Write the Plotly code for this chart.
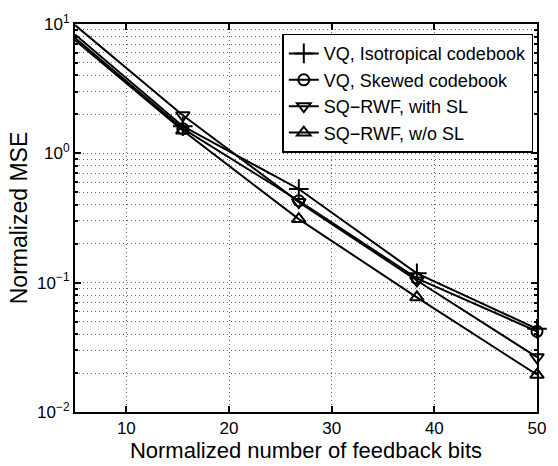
import plotly.graph_objects as go

bits = [5, 15.5, 26.8, 38.3, 50]
vq_iso = [8.3, 1.62, 0.53, 0.118, 0.044]
vq_skew = [7.8, 1.55, 0.43, 0.108, 0.042]
sq_sl = [9.8, 1.97, 0.42, 0.104, 0.0265]
sq_nosl = [7.5, 1.5, 0.31, 0.077, 0.0194]

names = ["VQ, Isotropical codebook", "VQ, Skewed codebook",
         "SQ\u2212RWF, with SL", "SQ\u2212RWF, w/o SL"]
series = [vq_iso, vq_skew, sq_sl, sq_nosl]
symbols = ["cross-thin-open", "circle-open", "triangle-down-open", "triangle-up-open"]
sizes = [14, 11, 12, 12]

FONT = "Liberation Sans, Arial, Helvetica, sans-serif"
GRID = "#666"
DOTS = "1px,3px"

fig = go.Figure()
for name, vals, sym, sz in zip(names, series, symbols, sizes):
    # first segment (starts at the left axis edge, no marker shown there)
    fig.add_trace(go.Scatter(x=bits[:2], y=vals[:2], mode="lines",
                             line=dict(color="black", width=2),
                             showlegend=False, hoverinfo="skip"))
    fig.add_trace(go.Scatter(x=bits[1:], y=vals[1:], mode="lines+markers", name=name,
                             line=dict(color="black", width=2),
                             marker=dict(symbol=sym, size=sz, color="black",
                                         line=dict(color="black", width=2)),
                             cliponaxis=False))

fig.update_layout(
    width=558, height=466,
    margin=dict(l=75, r=13, t=17, b=47),
    paper_bgcolor="white", plot_bgcolor="white",
    font=dict(family=FONT, size=17, color="black"),
    legend=dict(x=0.992, y=0.975, xanchor="right", yanchor="top",
                bgcolor="white", bordercolor="black", borderwidth=1.5,
                font=dict(size=18), tracegroupgap=0, itemwidth=30),
    showlegend=True,
)

fig.update_xaxes(
    range=[5, 50], tickvals=[10, 20, 30, 40, 50],
    showline=True, linecolor="black", linewidth=2, mirror="ticks",
    ticks="inside", ticklen=6, tickwidth=1.5, tickcolor="black",
    showgrid=True, gridcolor=GRID, griddash=DOTS, gridwidth=1,
    zeroline=False, tickfont=dict(size=17),
    title=dict(text="Normalized number of feedback bits", font=dict(size=22), standoff=0),
)

fig.update_yaxes(
    type="log", range=[-2, 1],
    tickvals=[0.01, 0.1, 1, 10],
    ticktext=["10<sup>\u22122</sup>", "10<sup>\u22121</sup>", "10<sup>0</sup>", "10<sup>1</sup>"],
    showline=True, linecolor="black", linewidth=2, mirror="ticks",
    ticks="inside", ticklen=6, tickwidth=1.5, tickcolor="black",
    showgrid=True, gridcolor=GRID, griddash=DOTS, gridwidth=1,
    minor=dict(showgrid=True, gridcolor=GRID, griddash=DOTS, gridwidth=1,
               ticks="inside", ticklen=3, tickcolor="black",
               tickvals=[m * 10 ** e for e in (-2, -1, 0) for m in range(2, 10)]),
    zeroline=False, tickfont=dict(size=17),
    title=dict(text="Normalized MSE", font=dict(size=23), standoff=3),
)

fig.write_html("out.html")
